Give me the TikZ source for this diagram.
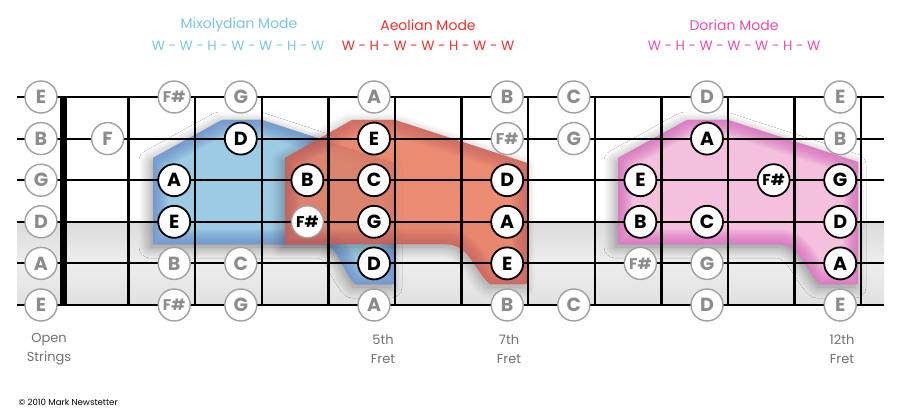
\documentclass[tikz,border=0pt]{standalone}
\usepackage{fontspec}
\setmainfont{Poppins}
\usetikzlibrary{shadows.blur}
\definecolor{mixo}{HTML}{7CC6DE}
\definecolor{aeol}{HTML}{EE3030}
\definecolor{dori}{HTML}{EE4FA6}
\definecolor{bluelight}{HTML}{9DCBE3}
\definecolor{bluedark}{HTML}{6A8BCB}
\definecolor{redlight}{HTML}{E8775A}
\definecolor{reddark}{HTML}{BF4C48}
\definecolor{pinklight}{HTML}{F4C0DE}
\definecolor{pinkdark}{HTML}{D466BC}
\definecolor{notegray}{HTML}{8C8C8C}
\definecolor{ringgray}{HTML}{A0A0A0}
\definecolor{labelgray}{HTML}{707070}
\newcommand\modeshape[3]{%
  \fill[#2, blur shadow={shadow blur steps=16, shadow xshift=-3pt, shadow yshift=-3pt, shadow blur radius=11pt, shadow opacity=40}] #1;
  \begin{scope}
    \clip #1;
    \foreach \w in {2,4,...,30} {\draw[#3, opacity=0.075, line width=\w pt] #1;}
  \end{scope}}
\newcommand\sh{{\fontsize{15.5}{15.5}\selectfont F\#}}
\tikzset{
  stringline/.style={line width=2pt, black},
  fretline/.style={line width=2.4pt, black},
  gn/.style={circle, minimum size=32pt, inner sep=0pt, fill=white, draw=ringgray, line width=1.4pt, text=notegray, font=\bfseries\fontsize{19}{19}\selectfont},
  bn/.style={circle, minimum size=32pt, inner sep=0pt, fill=white, draw=black, line width=1.8pt, text=black, font=\bfseries\fontsize{19}{19}\selectfont},
  mn/.style={circle, minimum size=32pt, inner sep=0pt, fill=white, draw=ringgray, line width=1.4pt, text=black, font=\bfseries\fontsize{19}{19}\selectfont},
  title/.style={font=\fontsize{14}{14}\selectfont},
  steps/.style={font=\fontsize{13.5}{14}\selectfont},
  bottomlabel/.style={align=center, text=labelgray, font=\fontsize{13}{19}\selectfont},
}
\begin{document}
\begin{tikzpicture}[x=1pt,y=-1pt]
\useasboundingbox (0,0) rectangle (901,414);
\fill[white] (0,0) rectangle (901,414);
% grey lower band
\shade[top color=white!86!black, bottom color=white!88!black, middle color=white!93!black] (17,222) rectangle (884,305);
% mode shapes
\modeshape{(153,158) -- (222,120) -- (262,120) -- (394,163) -- (394,284) -- (355,284) .. controls (342,270) and (338,245) .. (322,244) -- (153,244) -- cycle}{bluelight}{bluedark}
\begin{scope}[transparency group, opacity=0.85]
\modeshape{(285,158) -- (352,120) -- (395,120) -- (527,163) -- (527,284) -- (490,284) .. controls (474,270) and (470,245) .. (446,244) -- (285,244) -- cycle}{redlight}{reddark}
\end{scope}
\modeshape{(618,158) -- (687,120) -- (728,120) -- (858,162) -- (858,284) -- (820,284) .. controls (805,270) and (800,245) .. (780,244) -- (618,244) -- cycle}{pinklight}{pinkdark}
% strings
\foreach \s in {1,...,6} {\draw[stringline] (17,{97+41.6*(\s-1)}) -- (884,{97+41.6*(\s-1)});}
% frets
\foreach \n in {1,...,12} {\draw[fretline] ({62+66.6*\n},97) -- ({62+66.6*\n},305);}
% nut
\fill[black] (59.5,96) rectangle (66.5,306);
% notes
\foreach \s/\f/\t/\k in {
 1/0/E/gn, 1/2/\sh/gn, 1/3/G/gn, 1/5/A/gn, 1/7/B/gn, 1/8/C/gn, 1/10/D/gn, 1/12/E/gn,
 2/0/B/gn, 2/1/F/gn, 2/3/D/bn, 2/5/E/bn, 2/7/\sh/gn, 2/8/G/gn, 2/10/A/bn, 2/12/B/gn,
 3/0/G/gn, 3/2/A/bn, 3/4/B/bn, 3/5/C/bn, 3/7/D/bn, 3/9/E/bn, 3/11/\sh/bn, 3/12/G/bn,
 4/0/D/gn, 4/2/E/bn, 4/4/\sh/mn, 4/5/G/bn, 4/7/A/bn, 4/9/B/bn, 4/10/C/bn, 4/12/D/bn,
 5/0/A/gn, 5/2/B/gn, 5/3/C/gn, 5/5/D/bn, 5/7/E/bn, 5/9/\sh/gn, 5/10/G/gn, 5/12/A/bn,
 6/0/E/gn, 6/2/\sh/gn, 6/3/G/gn, 6/5/A/gn, 6/7/B/gn, 6/8/C/gn, 6/10/D/gn, 6/12/E/gn}
 {\node[\k] (n\s-\f) at ({41+66.6*\f},{97+41.6*(\s-1)}) {\t};}
% titles
\node[title, text=mixo] (tmix) at (239,25) {Mixolydian Mode};
\node[steps, text=mixo] (smix) at (238,46) {W - W - H - W - W - H - W};
\node[title, text=aeol] (taeo) at (428,25) {Aeolian Mode};
\node[steps, text=aeol] (saeo) at (428,46) {W - H - W - W - H - W - W};
\node[title, text=dori] (tdor) at (734,25) {Dorian Mode};
\node[steps, text=dori] (sdor) at (734,46) {W - H - W - W - W - H - W};
% bottom labels
\node[bottomlabel] (lopen) at (49,349) {Open\\Strings};
\node[bottomlabel] (l5) at (383,349) {5th\\Fret};
\node[bottomlabel] (l7) at (509,349) {7th\\Fret};
\node[bottomlabel] (l12) at (842,349) {12th\\Fret};
\node[anchor=west, font=\fontsize{8.6}{9}\selectfont] (copy) at (15,402) {© 2010 Mark Newstetter};
\end{tikzpicture}
\end{document}
